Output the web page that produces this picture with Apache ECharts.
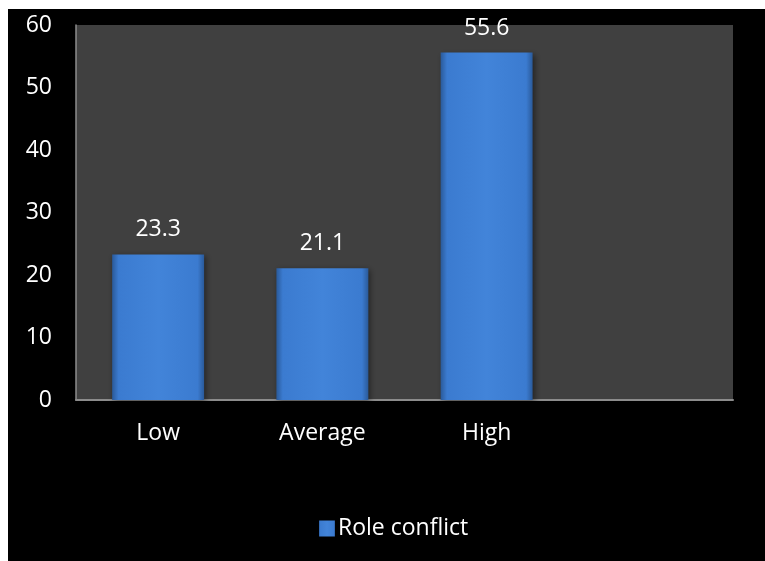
<!DOCTYPE html>
<html>
<head>
<meta charset="utf-8">
<script src="https://cdn.jsdelivr.net/npm/echarts@6/dist/echarts.min.js"></script>
<style>
  html, body { margin: 0; padding: 0; background: #ffffff; width: 765px; height: 561px; overflow: hidden; }
  #c { position: absolute; left: 8px; top: 9px; width: 757px; height: 552px; background: #000000; }
</style>
</head>
<body>
<div id="c"></div>
<script>
var categories = ['Low', 'Average', 'High', ''];
var roleConflict = [23.3, 21.1, 55.6, null];
var seriesName = 'Role conflict';
var yTicks = { min: 0, max: 60, interval: 10 };

var chart = echarts.init(document.getElementById('c'), null, { renderer: 'canvas' });
var font = 'Open Sans';
var option = {
  backgroundColor: '#000000',
  animation: false,
  grid: {
    left: 68, top: 16, right: 32, bottom: 161,
    show: true, backgroundColor: '#404040', borderWidth: 0,
    containLabel: false
  },
  legend: {
    data: [seriesName],
    left: 306, top: 503,
    itemWidth: 16, itemHeight: 16, itemGap: 6,
    icon: 'rect',
    textStyle: { color: '#ffffff', fontFamily: font, fontSize: 23, padding: [0, 0, 0, -2] }
  },
  xAxis: {
    type: 'category',
    data: categories,
    axisLine: { show: true, lineStyle: { color: '#8c8c8c', width: 2 } },
    axisTick: { show: false },
    axisLabel: { color: '#ffffff', fontFamily: font, fontSize: 23, margin: 22 },
    splitLine: { show: false }
  },
  yAxis: {
    type: 'value',
    min: yTicks.min, max: yTicks.max, interval: yTicks.interval,
    axisLine: { show: true, lineStyle: { color: '#8c8c8c', width: 1.5 } },
    axisTick: { show: false },
    axisLabel: { color: '#ffffff', fontFamily: font, fontSize: 23, margin: 24 },
    splitLine: { show: false }
  },
  series: [{
    name: seriesName,
    type: 'bar',
    data: roleConflict,
    barWidth: '56%',
    itemStyle: {
      color: new echarts.graphic.LinearGradient(0, 0, 1, 0, [
        { offset: 0, color: '#2a5a9a' },
        { offset: 0.07, color: '#3b7bd0' },
        { offset: 0.5, color: '#4284d9' },
        { offset: 0.93, color: '#3b7bd0' },
        { offset: 1, color: '#2a5a9a' }
      ]),
      shadowColor: 'rgba(0,0,0,0.45)',
      shadowBlur: 6,
      shadowOffsetX: 2,
      shadowOffsetY: 2
    },
    label: {
      show: true, position: 'top', distance: 13,
      color: '#ffffff', fontFamily: font, fontSize: 23
    }
  }]
};
chart.setOption(option);
</script>
</body>
</html>
